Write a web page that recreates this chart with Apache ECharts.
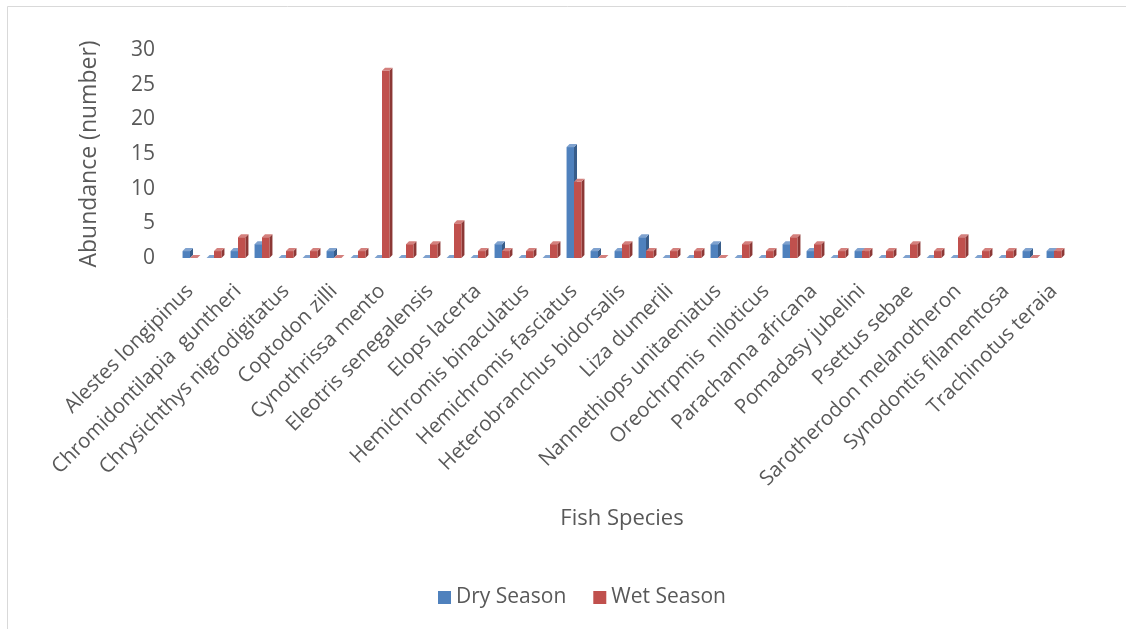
<!DOCTYPE html>
<html>
<head>
<meta charset="utf-8">
<title>Fish species abundance by season</title>
<script src="https://cdn.jsdelivr.net/npm/echarts@6/dist/echarts.min.js"></script>
<style>
  html, body { margin: 0; padding: 0; background: #ffffff; }
  #chart { width: 1126px; height: 629px; }
</style>
</head>
<body>
<div id="chart"></div>
<script>
// Species along the category axis; every second name is left blank on the axis
const categories = [
  'Alestes longipinus', '',
  'Chromidontilapia  guntheri', '',
  'Chrysichthys nigrodigitatus', '',
  'Coptodon zilli', '',
  'Cynothrissa mento', '',
  'Eleotris senegalensis', '',
  'Elops lacerta', '',
  'Hemichromis binaculatus', '',
  'Hemichromis fasciatus', '',
  'Heterobranchus bidorsalis', '',
  'Liza dumerili', '',
  'Nannethiops unitaeniatus', '',
  'Oreochrpmis  niloticus', '',
  'Parachanna africana', '',
  'Pomadasy jubelini', '',
  'Psettus sebae', '',
  'Sarotherodon melanotheron', '',
  'Synodontis filamentosa', '',
  'Trachinotus teraia'
];

// Abundance counts per species
const drySeason = [1, 0, 1, 2, 0, 0, 1, 0, 0, 0, 0, 0, 0, 2, 0, 0, 16, 1, 1, 3, 0, 0, 2, 0, 0, 2, 1, 0, 1, 0, 0, 0, 0, 0, 0, 1, 1];
const wetSeason = [0, 1, 3, 3, 1, 1, 0, 1, 27, 2, 2, 5, 1, 1, 1, 2, 11, 0, 2, 1, 1, 1, 0, 2, 1, 3, 2, 1, 1, 1, 2, 1, 3, 1, 1, 0, 1];

const yTicks = { min: 0, max: 30, step: 5 };

const FONT = '"Open Sans", "Liberation Sans", sans-serif';
const TEXT = '#595959';

// 3D-looking column: front face, darker right side, lighter top
function columnRenderer(slot, faces) {
  return function (params, api) {
    const idx = api.value(0);
    const v = api.value(1);
    const base = api.coord([idx, 0]);
    const top = api.coord([idx, v]);
    const band = api.size([1, 0])[0];
    const w = band * 0.31;
    const dx = 3, dy = 3;
    const x0 = base[0] - w + slot * w;
    const yT = top[1];
    const yB = base[1];
    return {
      type: 'group',
      children: [
        {
          type: 'polygon',
          shape: { points: [[x0 + w, yT], [x0 + w + dx, yT - dy], [x0 + w + dx, yB - dy], [x0 + w, yB]] },
          style: { fill: faces.side }
        },
        {
          type: 'rect',
          shape: { x: x0, y: yT, width: w, height: yB - yT },
          style: { fill: faces.front }
        },
        {
          type: 'polygon',
          shape: { points: [[x0, yT], [x0 + dx, yT - dy], [x0 + w + dx, yT - dy], [x0 + w, yT]] },
          style: { fill: faces.top }
        }
      ]
    };
  };
}

const dryFaces = { front: '#4f81bd', side: '#385d8a', top: '#7fa2cf' };
const wetFaces = { front: '#c0504d', side: '#8c3836', top: '#d4807d' };

const chart = echarts.init(document.getElementById('chart'), null, { renderer: 'canvas' });

chart.setOption({
  animation: false,
  backgroundColor: '#ffffff',
  textStyle: { fontFamily: FONT },
  graphic: [
    {
      type: 'rect',
      shape: { x: 7.5, y: 6.5, width: 1200, height: 700 },
      style: { fill: 'none', stroke: '#d9d9d9', lineWidth: 1 },
      silent: true
    }
  ],
  grid: { left: 178, right: 60, top: 50, bottom: 371, containLabel: false },
  legend: {
    left: 433,
    top: 582,
    itemWidth: 13,
    itemHeight: 13,
    itemGap: 27,
    icon: 'rect',
    textStyle: { fontSize: 21, color: TEXT, fontFamily: FONT },
    data: ['Dry Season', 'Wet Season']
  },
  xAxis: {
    type: 'category',
    data: categories,
    boundaryGap: true,
    name: 'Fish Species',
    nameLocation: 'middle',
    nameGap: 250,
    nameTextStyle: { fontSize: 22, color: TEXT, fontFamily: FONT },
    axisLine: { show: false },
    axisTick: { show: false },
    splitLine: { show: false },
    axisLabel: {
      interval: 0,
      rotate: 45,
      margin: 30,
      fontSize: 20.5,
      color: TEXT,
      fontFamily: FONT
    }
  },
  yAxis: {
    type: 'value',
    min: yTicks.min,
    max: yTicks.max,
    interval: yTicks.step,
    name: 'Abundance (number)',
    nameLocation: 'middle',
    nameGap: 77,
    nameTextStyle: { fontSize: 23, color: TEXT, fontFamily: FONT },
    axisLine: { show: false },
    axisTick: { show: false },
    splitLine: { show: false },
    axisLabel: { margin: 23, fontSize: 21, color: TEXT, fontFamily: FONT }
  },
  series: [
    {
      name: 'Dry Season',
      type: 'custom',
      itemStyle: { color: dryFaces.front },
      renderItem: columnRenderer(0, dryFaces),
      encode: { x: 0, y: 1 },
      data: drySeason.map((v, i) => [i, v])
    },
    {
      name: 'Wet Season',
      type: 'custom',
      itemStyle: { color: wetFaces.front },
      renderItem: columnRenderer(1, wetFaces),
      encode: { x: 0, y: 1 },
      data: wetSeason.map((v, i) => [i, v])
    }
  ]
});
</script>
</body>
</html>
